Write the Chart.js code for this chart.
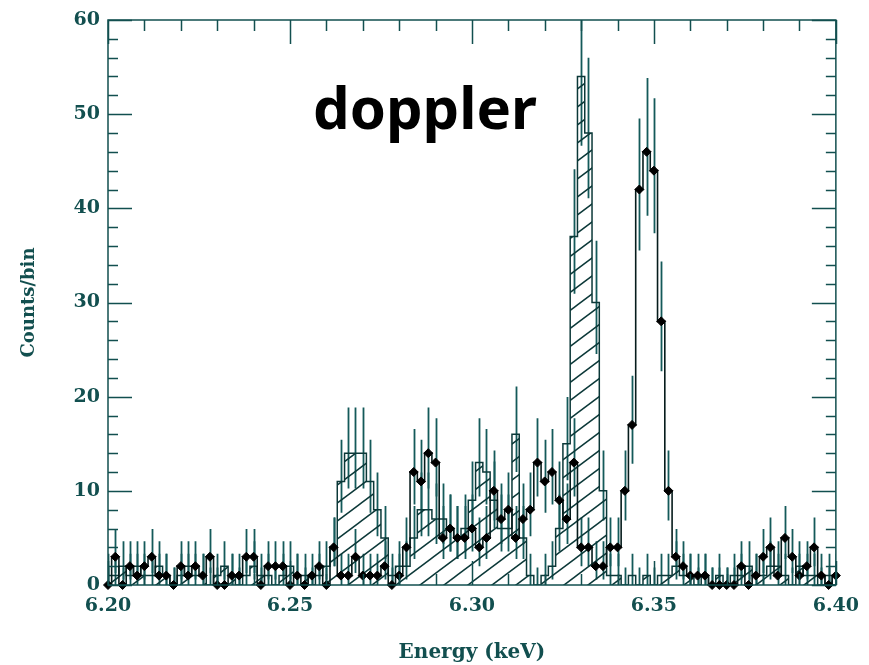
<!DOCTYPE html>
<html>
<head>
<meta charset="utf-8">
<script src="https://cdn.jsdelivr.net/npm/chart.js@4.4.0/dist/chart.umd.min.js"></script>
<style>
  html, body { margin: 0; padding: 0; background: #ffffff; }
  #wrap { width: 869px; height: 665px; position: relative; }
</style>
</head>
<body>
<div id="wrap"><canvas id="myChart"></canvas></div>
<script>
// bin centres in keV (2 eV bins)
var energy = [
  6.200, 6.202, 6.204, 6.206, 6.208, 6.210, 6.212, 6.214, 6.216, 6.218,
  6.220, 6.222, 6.224, 6.226, 6.228, 6.230, 6.232, 6.234, 6.236, 6.238,
  6.240, 6.242, 6.244, 6.246, 6.248, 6.250, 6.252, 6.254, 6.256, 6.258,
  6.260, 6.262, 6.264, 6.266, 6.268, 6.270, 6.272, 6.274, 6.276, 6.278,
  6.280, 6.282, 6.284, 6.286, 6.288, 6.290, 6.292, 6.294, 6.296, 6.298,
  6.300, 6.302, 6.304, 6.306, 6.308, 6.310, 6.312, 6.314, 6.316, 6.318,
  6.320, 6.322, 6.324, 6.326, 6.328, 6.330, 6.332, 6.334, 6.336, 6.338,
  6.340, 6.342, 6.344, 6.346, 6.348, 6.350, 6.352, 6.354, 6.356, 6.358,
  6.360, 6.362, 6.364, 6.366, 6.368, 6.370, 6.372, 6.374, 6.376, 6.378,
  6.380, 6.382, 6.384, 6.386, 6.388, 6.390, 6.392, 6.394, 6.396, 6.398,
  6.400
];

// measured spectrum (diamonds)
var measured = [
  0, 3, 0, 2, 1, 2, 3, 1, 1, 0,
  2, 1, 2, 1, 3, 0, 0, 1, 1, 3,
  3, 0, 2, 2, 2, 0, 1, 0, 1, 2,
  0, 4, 1, 1, 3, 1, 1, 1, 2, 0,
  1, 4, 12, 11, 14, 13, 5, 6, 5, 5,
  6, 4, 5, 10, 7, 8, 5, 7, 8, 13,
  11, 12, 9, 7, 13, 4, 4, 2, 2, 4,
  4, 10, 17, 42, 46, 44, 28, 10, 3, 2,
  1, 1, 1, 0, 0, 0, 0, 2, 0, 1,
  3, 4, 1, 5, 3, 1, 2, 4, 1, 0,
  1
];

// hatched histogram
var hatched = [
  1, 1, 2, 1, 2, 1, 1, 2, 1, 0,
  1, 2, 1, 1, 0, 1, 2, 1, 0, 1,
  2, 1, 1, 0, 1, 2, 1, 1, 0, 1,
  2, 4, 11, 14, 14, 14, 11, 8, 5, 1,
  2, 2, 5, 8, 8, 7, 7, 6, 5, 6,
  9, 13, 12, 9, 6, 6, 16, 5, 1, 0,
  1, 2, 6, 15, 37, 54, 48, 30, 10, 1,
  1, 0, 1, 0, 1, 0, 1, 1, 2, 1,
  1, 0, 1, 0, 1, 0, 1, 1, 2, 1,
  1, 2, 2, 1, 0, 2, 1, 1, 0, 1,
  0
];

var xTicks = [6.20, 6.25, 6.30, 6.35, 6.40];
var yTicks = [0, 10, 20, 30, 40, 50, 60];
var note = 'doppler';

var ink = '#0b3838';
var axisInk = '#124f4f';
var errInk = '#145a5a';
var serif = "'DejaVu Serif', serif";

function hatchPattern() {
  var c = document.createElement('canvas');
  c.width = 24; c.height = 18;
  var g = c.getContext('2d');
  g.strokeStyle = ink;
  g.lineWidth = 1.5;
  [-24, 0, 24].forEach(function (dx) {
    g.beginPath();
    g.moveTo(dx - 2, 18 + 1.5);
    g.lineTo(dx + 26, -1.5);
    g.stroke();
  });
  return document.getElementById('myChart').getContext('2d').createPattern(c, 'repeat');
}

function pts(arr) {
  return arr.map(function (v, i) { return { x: energy[i], y: v }; });
}

// poisson-ish error bars, ticks inside the frame, the note
var framePlugin = {
  id: 'frame',
  beforeDatasetsDraw: function (chart) {
    var ctx = chart.ctx, a = chart.chartArea;
    var xs = chart.scales.x, ys = chart.scales.y;
    ctx.save();
    ctx.beginPath();
    ctx.rect(a.left, a.top, a.right - a.left, a.bottom - a.top);
    ctx.clip();
    ctx.strokeStyle = errInk;
    ctx.lineWidth = 1.8;
    [hatched, measured].forEach(function (arr) {
      arr.forEach(function (n, i) {
        var x = Math.round(xs.getPixelForValue(energy[i])) + 0.5;
        var lo = Math.max(0, n - Math.sqrt(n));
        var hi = n + Math.sqrt(n + 0.75) + 1;
        ctx.beginPath();
        ctx.moveTo(x, ys.getPixelForValue(lo));
        ctx.lineTo(x, ys.getPixelForValue(hi));
        ctx.stroke();
      });
    });
    ctx.restore();
  },
  afterDatasetsDraw: function (chart) {
    var ctx = chart.ctx, a = chart.chartArea;
    var xs = chart.scales.x, ys = chart.scales.y;
    ctx.save();
    ctx.strokeStyle = axisInk;
    ctx.lineWidth = 1.5;
    ctx.strokeRect(a.left, a.top, a.right - a.left, a.bottom - a.top);
    var i, v, p, len;
    for (i = 0; i <= 20; i++) {
      v = 6.2 + i * 0.01;
      p = Math.round(xs.getPixelForValue(v)) + 0.5;
      len = (i % 5 === 0) ? 24 : 11;
      ctx.beginPath();
      ctx.moveTo(p, a.top); ctx.lineTo(p, a.top + len);
      ctx.moveTo(p, a.bottom); ctx.lineTo(p, a.bottom - len);
      ctx.stroke();
    }
    for (v = 0; v <= 60; v += 2) {
      p = Math.round(ys.getPixelForValue(v)) + 0.5;
      len = (v % 10 === 0) ? 24 : 10;
      ctx.beginPath();
      ctx.moveTo(a.left, p); ctx.lineTo(a.left + len, p);
      ctx.moveTo(a.right, p); ctx.lineTo(a.right - len, p);
      ctx.stroke();
    }
    ctx.fillStyle = '#000000';
    ctx.font = "bold 58px 'Noto Sans', sans-serif";
    ctx.textAlign = 'center';
    ctx.textBaseline = 'alphabetic';
    ctx.fillText(note, 425, 129);
    ctx.restore();
  }
};

var ctx = document.getElementById('myChart').getContext('2d');
var chart = new Chart(ctx, {
  type: 'line',
  data: {
    datasets: [{
      label: 'hatched',
      data: pts(hatched),
      stepped: 'middle',
      borderColor: ink,
      borderWidth: 1.5,
      backgroundColor: hatchPattern(),
      fill: 'origin',
      pointRadius: 0,
      order: 2
    }, {
      label: 'measured',
      data: pts(measured),
      stepped: 'middle',
      borderColor: '#061c1c',
      borderWidth: 1.6,
      fill: false,
      pointStyle: 'rectRot',
      pointRadius: 4.5,
      pointBackgroundColor: '#000000',
      pointBorderColor: '#000000',
      pointBorderWidth: 1,
      clip: 8,
      order: 1
    }]
  },
  options: {
    responsive: true,
    maintainAspectRatio: false,
    animation: false,
    devicePixelRatio: 1,
    layout: { padding: { left: 0, right: 31, top: 20, bottom: 0 } },
    plugins: {
      legend: { display: false },
      tooltip: { enabled: false }
    },
    scales: {
      x: {
        type: 'linear',
        min: 6.2,
        max: 6.4,
        grid: { display: false, drawTicks: false },
        border: { display: false },
        afterBuildTicks: function (s) {
          s.ticks = xTicks.map(function (v) { return { value: v }; });
        },
        afterFit: function (s) { s.height = 80; },
        ticks: {
          color: axisInk,
          padding: 10,
          maxRotation: 0,
          font: { family: serif, size: 19, weight: 'bold' },
          callback: function (v) { return Number(v).toFixed(2); }
        },
        title: {
          display: true,
          text: 'Energy (keV)',
          color: axisInk,
          font: { family: serif, size: 20, weight: 'bold' },
          padding: { top: 0, bottom: 0 }
        }
      },
      y: {
        min: 0,
        max: 60,
        grid: { display: false, drawTicks: false },
        border: { display: false },
        afterBuildTicks: function (s) {
          s.ticks = yTicks.map(function (v) { return { value: v }; });
        },
        afterFit: function (s) { s.width = 108; },
        ticks: {
          color: axisInk,
          padding: 8,
          font: { family: serif, size: 19, weight: 'bold' }
        },
        title: {
          display: true,
          text: 'Counts/bin',
          color: axisInk,
          font: { family: serif, size: 18, weight: 'bold' },
          padding: { top: 19, bottom: 0 }
        }
      }
    }
  },
  plugins: [framePlugin]
});
</script>
</body>
</html>
